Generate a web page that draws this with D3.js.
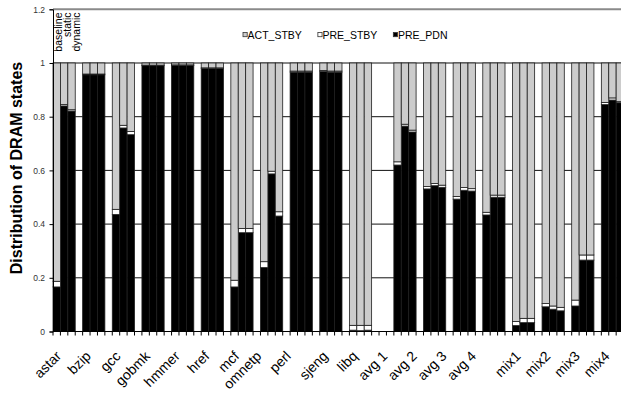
<!DOCTYPE html>
<html>
<head>
<meta charset="utf-8">
<script src="https://cdn.jsdelivr.net/npm/d3@7"></script>
<style>
	body { margin: 0; background: #fff; }
	svg { display: block; font-family: "Liberation Sans", Arial, sans-serif; }
</style>
</head>
<body>
<div id="chart"></div>
<script>
// categories
var groups = ["astar", "bzip", "gcc", "gobmk", "hmmer", "href", "mcf", "omnetp", "perl", "sjeng", "libq",
	"avg 1", "avg 2", "avg 3", "avg 4", "mix1", "mix2", "mix3", "mix4"];
var configs = ["baseline", "static", "dynamic"];
var states = ["PRE_PDN", "PRE_STBY", "ACT_STBY"];      // bottom to top
var legendOrder = ["ACT_STBY", "PRE_STBY", "PRE_PDN"];
var yTicks = [0, 0.2, 0.4, 0.6, 0.8, 1, 1.2];
var spacerBefore = "avg 1";

// share of time per state, one (baseline, static, dynamic) triple per group
var prePdn = [
	[0.166, 0.840, 0.821], [0.956, 0.956, 0.956], [0.436, 0.758, 0.733], [0.990, 0.990, 0.990],
	[0.991, 0.991, 0.991], [0.980, 0.980, 0.980], [0.166, 0.368, 0.368], [0.238, 0.587, 0.430],
	[0.966, 0.966, 0.966], [0.968, 0.966, 0.966], [0.005, 0.003, 0.005], [0.620, 0.765, 0.743],
	[0.531, 0.543, 0.537], [0.493, 0.526, 0.523], [0.434, 0.500, 0.500], [0.022, 0.033, 0.033],
	[0.092, 0.083, 0.077], [0.095, 0.266, 0.266], [0.845, 0.862, 0.852]
];
var preStby = [
	[0.021, 0.005, 0.005], [0.003, 0.003, 0.003], [0.019, 0.010, 0.012], [0.002, 0.002, 0.002],
	[0.002, 0.002, 0.002], [0.002, 0.002, 0.002], [0.025, 0.016, 0.016], [0.022, 0.010, 0.016],
	[0.004, 0.004, 0.004], [0.004, 0.004, 0.004], [0.018, 0.020, 0.018], [0.012, 0.007, 0.007],
	[0.009, 0.008, 0.008], [0.010, 0.010, 0.009], [0.010, 0.008, 0.008], [0.015, 0.016, 0.016],
	[0.012, 0.012, 0.013], [0.022, 0.019, 0.019], [0.008, 0.008, 0.004]
];
var actStby = [
	[0.813, 0.155, 0.174], [0.041, 0.041, 0.041], [0.545, 0.232, 0.255], [0.008, 0.008, 0.008],
	[0.007, 0.007, 0.007], [0.018, 0.018, 0.018], [0.809, 0.616, 0.616], [0.740, 0.403, 0.554],
	[0.030, 0.030, 0.030], [0.028, 0.030, 0.030], [0.977, 0.977, 0.977], [0.368, 0.228, 0.250],
	[0.460, 0.449, 0.455], [0.497, 0.464, 0.468], [0.556, 0.492, 0.492], [0.963, 0.951, 0.951],
	[0.896, 0.905, 0.910], [0.883, 0.715, 0.715], [0.147, 0.130, 0.144]
];

// which slot each group label sits under (1 = middle bar, 0 = first bar, -1 = gap before)
var labelSlot = [1, 1, 1, 1, 1, 1, 1, 0, 0, 1, 1, -1, -1, -1, -1, 1, 1, 1, 1];

var margin = {top: 9.3, left: 53},
	W = 621, H = 395,
	slotW = 7.41,
	height = 331.5 - margin.top;

// slots: three bars and a gap per group, two spare slots before the averages
var slots = [];
groups.forEach(function(g) {
	if (g === spacerBefore) { slots.push("sp1", "sp2"); }
	configs.forEach(function(c) { slots.push(g + "|" + c); });
	slots.push(g + "|gap");
});
var width = slots.length * slotW;

var rows = [];
groups.forEach(function(g, gi) {
	configs.forEach(function(c, ci) {
		rows.push({slot: g + "|" + c, PRE_PDN: prePdn[gi][ci], PRE_STBY: preStby[gi][ci], ACT_STBY: actStby[gi][ci]});
	});
});

var xScale = d3.scaleBand().domain(slots).range([0, width]).padding(0);
var yScale = d3.scaleLinear().domain([0, 1.2]).range([height, 0]);
var colour = {ACT_STBY: "#cccccc", PRE_STBY: "#ffffff", PRE_PDN: "#000000"};

var svg = d3.select("#chart").append("svg")
	.attr("width", W)
	.attr("height", H);
var g = svg.append("g")
	.attr("transform", "translate(" + margin.left + "," + margin.top + ")");

// gridlines
g.selectAll(".grid")
	.data(yTicks.filter(function(d) { return d > 0 && d < 1.2; }))
	.enter().append("line")
	.attr("x1", 0).attr("x2", width)
	.attr("y1", function(d) { return yScale(d); })
	.attr("y2", function(d) { return yScale(d); })
	.attr("stroke", "#111").attr("stroke-width", 1);

// plot frame top
g.append("line")
	.attr("x1", 0).attr("x2", width)
	.attr("y1", yScale(1.2)).attr("y2", yScale(1.2))
	.attr("stroke", "#8a8a8a").attr("stroke-width", 2);

// stacked bars
var stacked = d3.stack().keys(states)(rows);
g.selectAll(".layer")
	.data(stacked)
	.enter().append("g")
	.attr("fill", function(d) { return colour[d.key]; })
	.selectAll("rect")
	.data(function(d) { return d; })
	.enter().append("rect")
	.attr("x", function(d) { return xScale(d.data.slot); })
	.attr("width", xScale.bandwidth())
	.attr("y", function(d) { return yScale(d[1]); })
	.attr("height", function(d) { return yScale(d[0]) - yScale(d[1]); })
	.attr("stroke", "#1e1e1e")
	.attr("stroke-width", 0.8);

// x axis line and slot ticks
g.append("line")
	.attr("x1", 0).attr("x2", width)
	.attr("y1", height).attr("y2", height)
	.attr("stroke", "#000").attr("stroke-width", 1);
g.selectAll(".xtick")
	.data(slots.concat(["end"]))
	.enter().append("line")
	.attr("x1", function(d, i) { return i * xScale.step(); })
	.attr("x2", function(d, i) { return i * xScale.step(); })
	.attr("y1", height).attr("y2", height + 4)
	.attr("stroke", "#000").attr("stroke-width", 1);

// y axis
var yAxis = d3.axisLeft(yScale)
	.tickValues(yTicks)
	.tickSize(3.5)
	.tickPadding(4.5)
	.tickFormat(function(d) { return String(d); });
var ya = g.append("g").call(yAxis);
ya.select(".domain").attr("stroke", "#000");
ya.selectAll("line").attr("stroke", "#000");
ya.selectAll("text")
	.attr("font-family", "Liberation Sans, Arial, sans-serif")
	.attr("font-size", "8.5px")
	.attr("fill", "#333");

// group labels
g.selectAll(".xlabel")
	.data(groups)
	.enter().append("text")
	.attr("transform", function(d, i) {
		var first = xScale(d + "|" + configs[0]);
		var cx = first + (labelSlot[i] + 0.5) * xScale.step() - 2;
		return "translate(" + cx + "," + (357 - margin.top) + ") rotate(-45)";
	})
	.attr("text-anchor", "end")
	.attr("font-size", "14px")
	.attr("fill", "#000")
	.text(function(d) { return d; });

// config names over the first group
g.selectAll(".cfg")
	.data(configs)
	.enter().append("text")
	.attr("transform", function(d, i) {
		var bx = xScale(groups[0] + "|" + configs[0]) + xScale.bandwidth() + 1.5 + i * 8.8;
		return "translate(" + bx + "," + (12.5 - margin.top) + ") rotate(-90)";
	})
	.attr("text-anchor", "end")
	.attr("font-size", "10.5px")
	.attr("fill", "#000")
	.text(function(d) { return d; });

// y title
svg.append("text")
	.attr("transform", "translate(22,168) rotate(-90)")
	.attr("text-anchor", "middle")
	.attr("font-size", "16px")
	.attr("font-weight", "bold")
	.attr("fill", "#000")
	.text("Distribution of DRAM states");

// legend
var lx = 243;
legendOrder.forEach(function(k) {
	svg.append("rect")
		.attr("x", lx).attr("y", 32.5)
		.attr("width", 4.2).attr("height", 4.2)
		.attr("fill", colour[k])
		.attr("stroke", "#333").attr("stroke-width", 0.8);
	var t = svg.append("text")
		.attr("x", lx + 4.6).attr("y", 39.3)
		.attr("font-size", "10.5px")
		.attr("fill", "#000")
		.text(k);
	lx += 4.6 + t.node().getComputedTextLength() + 16;
});
</script>
</body>
</html>
